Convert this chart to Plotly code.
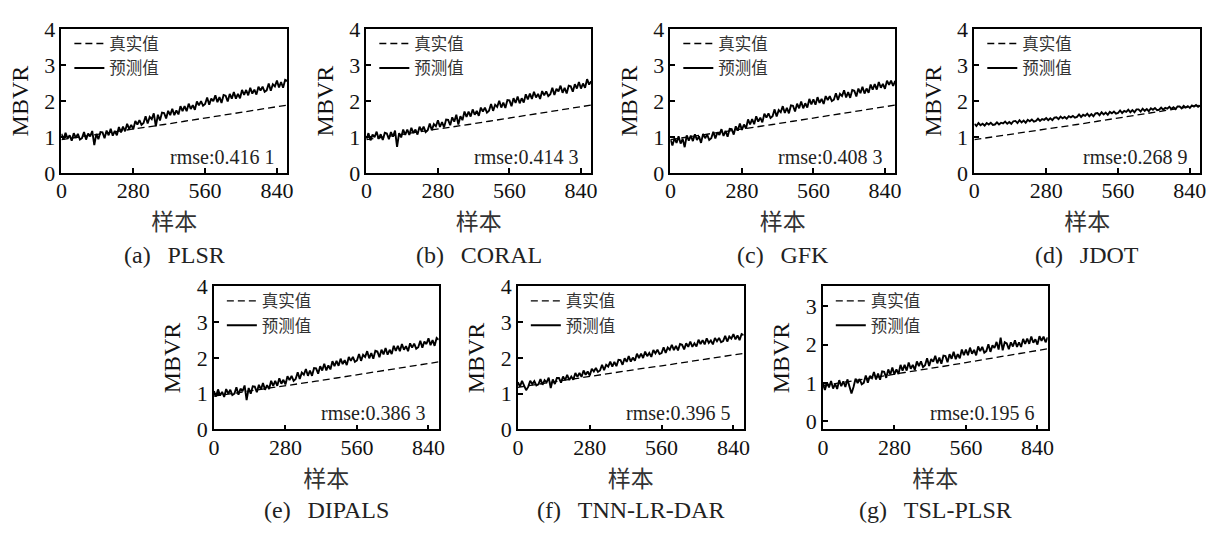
import plotly.graph_objects as go

# ---- data -------------------------------------------------------------
# sample index positions for the predicted series (every 8th sample)
samples = list(range(0, 881, 8))
# sample index positions for the measured (sorted) reference curve
true_samples = [0, 80, 160, 240, 320, 400, 480, 560, 640, 720, 800, 880]

true_common = [0.93, 1.01, 1.10, 1.18, 1.27, 1.35, 1.44, 1.53, 1.62, 1.71, 1.80, 1.89]
true_tnn = [1.18, 1.27, 1.35, 1.44, 1.52, 1.61, 1.70, 1.78, 1.87, 1.96, 2.04, 2.13]

pred_plsr = [
    1.09, 0.93, 1.12, 0.96, 1.05, 0.90, 1.11, 0.98, 1.09, 0.93,
    0.97, 1.14, 0.93, 1.10, 1.02, 1.17, 0.78, 1.09, 0.94, 1.14,
    1.13, 0.97, 1.18, 1.05, 1.23, 1.04, 1.17, 1.05, 1.28, 1.13,
    1.29, 1.16, 1.37, 1.23, 1.34, 1.22, 1.45, 1.35, 1.47, 1.34,
    1.39, 1.58, 1.38, 1.56, 1.50, 1.66, 1.30, 1.62, 1.46, 1.68,
    1.67, 1.52, 1.73, 1.61, 1.79, 1.61, 1.74, 1.63, 1.86, 1.72,
    1.86, 1.72, 1.93, 1.78, 1.89, 1.76, 1.99, 1.88, 2.00, 1.87,
    1.92, 2.10, 1.90, 2.07, 2.00, 2.16, 1.97, 2.11, 1.95, 2.17,
    2.15, 1.99, 2.20, 2.07, 2.25, 2.07, 2.20, 2.08, 2.31, 2.17,
    2.31, 2.16, 2.37, 2.21, 2.32, 2.18, 2.40, 2.29, 2.40, 2.26,
    2.30, 2.49, 2.29, 2.47, 2.41, 2.57, 2.38, 2.53, 2.37, 2.59, 2.56,
]
pred_coral = [
    0.94, 1.11, 0.91, 1.07, 1.00, 1.15, 0.95, 1.08, 0.92, 1.12,
    1.10, 0.94, 1.14, 1.01, 1.18, 0.73, 1.11, 0.99, 1.21, 1.06,
    1.21, 1.06, 1.26, 1.11, 1.21, 1.07, 1.29, 1.17, 1.29, 1.14,
    1.19, 1.38, 1.19, 1.36, 1.30, 1.47, 1.28, 1.42, 1.27, 1.49,
    1.48, 1.33, 1.55, 1.43, 1.62, 1.35, 1.58, 1.47, 1.71, 1.56,
    1.71, 1.57, 1.77, 1.62, 1.73, 1.59, 1.82, 1.71, 1.82, 1.68,
    1.73, 1.92, 1.73, 1.90, 1.84, 2.01, 1.82, 1.96, 1.81, 2.03,
    2.02, 1.86, 2.08, 1.95, 2.13, 1.94, 2.08, 1.96, 2.19, 2.05,
    2.21, 2.06, 2.26, 2.10, 2.20, 2.06, 2.28, 2.16, 2.27, 2.14,
    2.19, 2.37, 2.17, 2.34, 2.27, 2.43, 2.23, 2.37, 2.21, 2.43,
    2.41, 2.26, 2.47, 2.35, 2.53, 2.35, 2.49, 2.37, 2.61, 2.46, 2.55,
]
pred_gfk = [
    0.93, 0.77, 0.97, 0.84, 1.02, 0.82, 0.95, 0.72, 1.05, 0.90,
    1.04, 0.89, 1.08, 0.92, 1.02, 0.84, 1.09, 0.97, 1.07, 0.92,
    0.97, 1.15, 0.96, 1.13, 1.06, 1.22, 1.03, 1.17, 1.01, 1.23,
    1.22, 1.07, 1.30, 1.18, 1.38, 1.20, 1.35, 1.24, 1.49, 1.35,
    1.50, 1.36, 1.58, 1.43, 1.54, 1.41, 1.65, 1.54, 1.66, 1.53,
    1.58, 1.77, 1.57, 1.75, 1.69, 1.86, 1.67, 1.81, 1.66, 1.88,
    1.87, 1.71, 1.93, 1.80, 1.99, 1.80, 1.94, 1.82, 2.06, 1.91,
    2.05, 1.90, 2.11, 1.95, 2.06, 1.92, 2.14, 2.03, 2.14, 2.00,
    2.04, 2.22, 2.03, 2.20, 2.14, 2.30, 2.10, 2.25, 2.09, 2.31,
    2.29, 2.13, 2.35, 2.22, 2.40, 2.21, 2.35, 2.23, 2.46, 2.32,
    2.47, 2.32, 2.53, 2.37, 2.48, 2.34, 2.57, 2.45, 2.57, 2.42, 2.56,
]
pred_jdot = [
    1.37, 1.31, 1.39, 1.33, 1.37, 1.32, 1.39, 1.35, 1.40, 1.34,
    1.35, 1.41, 1.35, 1.40, 1.38, 1.43, 1.37, 1.42, 1.37, 1.44,
    1.45, 1.39, 1.47, 1.41, 1.46, 1.40, 1.48, 1.44, 1.49, 1.43,
    1.45, 1.51, 1.45, 1.50, 1.48, 1.53, 1.47, 1.52, 1.47, 1.54,
    1.55, 1.50, 1.57, 1.52, 1.56, 1.51, 1.58, 1.55, 1.59, 1.54,
    1.56, 1.63, 1.56, 1.62, 1.59, 1.65, 1.58, 1.64, 1.58, 1.66,
    1.67, 1.61, 1.69, 1.63, 1.68, 1.62, 1.70, 1.66, 1.71, 1.65,
    1.67, 1.74, 1.67, 1.73, 1.70, 1.76, 1.69, 1.75, 1.69, 1.77,
    1.77, 1.71, 1.79, 1.73, 1.78, 1.72, 1.80, 1.76, 1.81, 1.75,
    1.76, 1.82, 1.76, 1.81, 1.79, 1.84, 1.78, 1.83, 1.78, 1.85,
    1.85, 1.80, 1.87, 1.82, 1.86, 1.81, 1.88, 1.85, 1.89, 1.84, 1.88,
]
pred_dipals = [
    1.07, 0.92, 1.12, 0.95, 1.05, 0.91, 1.13, 1.00, 1.11, 0.96,
    1.00, 1.18, 0.97, 1.14, 1.07, 1.23, 0.82, 1.16, 1.00, 1.21,
    1.20, 1.04, 1.25, 1.12, 1.30, 1.11, 1.24, 1.13, 1.36, 1.22,
    1.36, 1.22, 1.43, 1.28, 1.39, 1.26, 1.49, 1.38, 1.50, 1.36,
    1.41, 1.60, 1.41, 1.59, 1.53, 1.69, 1.50, 1.65, 1.50, 1.72,
    1.71, 1.56, 1.77, 1.65, 1.84, 1.65, 1.79, 1.68, 1.91, 1.77,
    1.92, 1.78, 1.98, 1.83, 1.94, 1.80, 2.03, 1.92, 2.03, 1.89,
    1.93, 2.11, 1.92, 2.09, 2.03, 2.19, 1.99, 2.14, 1.98, 2.20,
    2.18, 2.02, 2.23, 2.10, 2.28, 2.09, 2.23, 2.11, 2.34, 2.20,
    2.34, 2.19, 2.39, 2.23, 2.33, 2.19, 2.41, 2.29, 2.40, 2.26,
    2.30, 2.48, 2.29, 2.46, 2.39, 2.55, 2.36, 2.50, 2.34, 2.56, 2.51,
]
pred_tnn = [
    1.32, 1.20, 1.36, 1.23, 1.10, 1.19, 1.36, 1.27, 1.35, 1.23,
    1.26, 1.41, 1.25, 1.38, 1.32, 1.45, 1.16, 1.40, 1.27, 1.44,
    1.44, 1.31, 1.48, 1.38, 1.53, 1.38, 1.48, 1.39, 1.58, 1.47,
    1.58, 1.47, 1.65, 1.53, 1.62, 1.51, 1.70, 1.62, 1.72, 1.61,
    1.65, 1.81, 1.66, 1.81, 1.76, 1.90, 1.76, 1.89, 1.77, 1.95,
    1.94, 1.81, 1.99, 1.89, 2.05, 1.90, 2.01, 1.92, 2.12, 2.00,
    2.12, 2.00, 2.18, 2.05, 2.14, 2.03, 2.22, 2.13, 2.23, 2.11,
    2.14, 2.30, 2.14, 2.29, 2.23, 2.37, 2.22, 2.34, 2.21, 2.39,
    2.37, 2.24, 2.41, 2.31, 2.46, 2.31, 2.41, 2.32, 2.51, 2.39,
    2.50, 2.38, 2.55, 2.42, 2.49, 2.38, 2.56, 2.47, 2.56, 2.44,
    2.47, 2.62, 2.46, 2.60, 2.54, 2.67, 2.52, 2.63, 2.50, 2.67, 2.64,
]
pred_tsl = [
    0.98, 0.81, 1.01, 0.88, 1.05, 0.85, 0.97, 0.84, 1.07, 0.91,
    1.04, 0.89, 1.09, 0.93, 0.72, 0.89, 1.11, 0.99, 1.10, 0.96,
    1.00, 1.19, 1.00, 1.18, 1.12, 1.28, 1.09, 1.24, 1.08, 1.30,
    1.29, 1.13, 1.35, 1.22, 1.40, 1.22, 1.35, 1.23, 1.47, 1.32,
    1.47, 1.32, 1.53, 1.37, 1.47, 1.34, 1.56, 1.44, 1.56, 1.41,
    1.46, 1.64, 1.44, 1.62, 1.55, 1.71, 1.51, 1.66, 1.50, 1.71,
    1.70, 1.54, 1.75, 1.63, 1.81, 1.62, 1.75, 1.64, 1.87, 1.72,
    1.87, 1.72, 1.92, 1.76, 1.86, 1.72, 1.95, 1.83, 1.94, 1.79,
    1.83, 2.01, 1.81, 1.98, 1.91, 2.07, 1.87, 2.18, 1.85, 2.06,
    2.03, 1.88, 2.06, 1.95, 2.11, 1.94, 2.06, 1.94, 2.15, 2.02,
    2.16, 2.02, 2.21, 2.05, 2.14, 2.00, 2.22, 2.10, 2.21, 2.06, 2.19,
]

tags = ["(a)", "(b)", "(c)", "(d)", "(e)", "(f)", "(g)"]
methods = ["PLSR", "CORAL", "GFK", "JDOT", "DIPALS", "TNN-LR-DAR", "TSL-PLSR"]
rmse_labels = ["0.416 1", "0.414 3", "0.408 3", "0.268 9", "0.386 3", "0.396 5", "0.195 6"]
pred_series = [pred_plsr, pred_coral, pred_gfk, pred_jdot, pred_dipals, pred_tnn, pred_tsl]
true_series = [true_common, true_common, true_common, true_common, true_common, true_tnn, true_common]
x_ticks = [0, 280, 560, 840]
series_names = ["真实值", "预测值"]

# ---- layout geometry (pixels) -----------------------------------------
W, H = 1219, 533
boxes = [  # left, right, top, bottom
    (56, 284, 18, 169),
    (364, 591, 18, 169),
    (671, 898, 18, 169),
    (978, 1206, 18, 169),
    (210, 437, 288, 438),
    (517, 745, 288, 438),
    (825, 1052, 288, 438),
]
y_ranges = [[0, 4]] * 6 + [[-0.22, 3.52]]
y_ticks = [[0, 1, 2, 3, 4]] * 6 + [[0, 1, 2, 3]]
caption_y = [255, 255, 255, 255, 522, 522, 522]
legend_top = [15, 15, 15, 15, 285, 285, 285]

SERIF = "Liberation Serif, 'Noto Sans CJK SC', serif"
INK = "#111111"

fig = go.Figure()
annotations = []
layout = {}
styles = [
    dict(color="black", width=1.3, dash="7px,4px"),
    dict(color="black", width=1.9),
]

for k in range(7):
    sfx = "" if k == 0 else str(k + 1)
    leg = "legend" if k == 0 else f"legend{k + 1}"
    xa, ya = "x" + sfx, "y" + sfx
    left, right, top, bottom = boxes[k]
    xs = [true_samples, samples]
    ys = [true_series[k], pred_series[k]]

    for j in range(2):
        fig.add_trace(go.Scatter(
            x=xs[j], y=ys[j], mode="lines", name=series_names[j],
            line=styles[j], xaxis=xa, yaxis=ya, legend=leg, hoverinfo="skip",
        ))
    layout[leg] = dict(
        x=(left + 8) / W, y=1 - legend_top[k] / H,
        xanchor="left", yanchor="top", tracegroupgap=0,
        bgcolor="rgba(0,0,0,0)", borderwidth=0,
        font=dict(family="Noto Sans CJK SC", size=16.5, color="#333333"),
    )

    axis_common = dict(
        showline=True, linewidth=1.7, linecolor="black", mirror=True,
        ticks="inside", ticklen=5, tickwidth=1.5, tickcolor="black",
        showgrid=False, zeroline=False,
        tickfont=dict(family=SERIF, size=22, color=INK),
    )
    layout["xaxis" + sfx] = dict(
        axis_common, domain=[left / W, right / W], anchor=ya,
        range=[0, 880], tickvals=x_ticks, ticklabelstandoff=-3,
        title=dict(text="样本", standoff=9,
                   font=dict(family="Noto Sans CJK SC", size=23, color="#333333")),
    )
    layout["yaxis" + sfx] = dict(
        axis_common, domain=[1 - bottom / H, 1 - top / H], anchor=xa,
        range=y_ranges[k], tickvals=y_ticks[k],
        title=dict(text="MBVR", standoff=9,
                   font=dict(family=SERIF, size=24, color=INK)),
    )

    annotations.append(dict(
        xref=xa + " domain", yref=ya + " domain", x=0.95, y=0.115,
        xanchor="right", yanchor="middle", showarrow=False,
        text=f"rmse:{rmse_labels[k]}",
        font=dict(family=SERIF, size=20, color="#222222"),
    ))
    annotations.append(dict(
        xref="paper", yref="paper", x=(left + right) / 2 / W, y=1 - caption_y[k] / H,
        xanchor="center", yanchor="middle", showarrow=False,
        text=f"{tags[k]}\u2002\u2009{methods[k]}",
        font=dict(family=SERIF, size=24, color="#222222"),
    ))

fig.update_layout(
    width=W, height=H, margin=dict(l=0, r=0, t=0, b=0),
    paper_bgcolor="white", plot_bgcolor="white",
    showlegend=True, annotations=annotations, **layout,
)

fig.write_html("out.html")
